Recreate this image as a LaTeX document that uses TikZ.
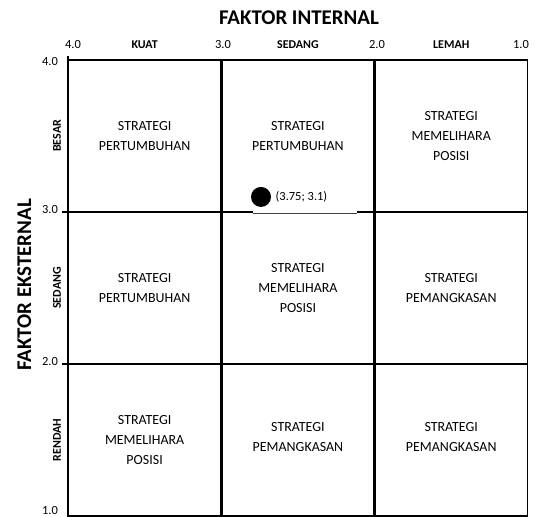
\documentclass[tikz,border=0pt]{standalone}
\usepackage{fontspec}
\setmainfont{Carlito}
\usetikzlibrary{positioning}

\begin{document}
\begin{tikzpicture}[x=-5.408cm, y=5.362cm,
  cellText/.style={align=center, font=\fontsize{14}{20}\selectfont},
  tickLabel/.style={font=\fontsize{12.5}{14}\selectfont},
  bandLabel/.style={font=\bfseries\fontsize{12}{14}\selectfont},
  axisTitle/.style={font=\bfseries\fontsize{21}{24}\selectfont}]
  \useasboundingbox (4.4436,0.9934) rectangle (0.9210,4.3947);
  % grid
  \draw[line width=1.2pt] (4,4) rectangle (1,1);
  \draw[line width=1.2pt] (4,4) -- (4,4.025);
  \draw[line width=2.5pt] (3,4) -- (3,1);
  \draw[line width=2.5pt] (2,4) -- (2,1);
  \draw[line width=2.5pt] (4.04,2) -- (1,2);
  \draw[line width=2.5pt] (4.04,3) -- (2.793,3);
  \draw[line width=1.4pt, black!75] (2.793,2.99) -- (2.115,2.99);
  \draw[line width=2.5pt] (2.115,3) -- (1,3);
  % axis titles
  \node[axisTitle] (intTitle) at (2.493,4.276) {FAKTOR INTERNAL};
  \node[axisTitle, rotate=90] (extTitle) at (4.285,2.52) {FAKTOR EKSTERNAL};
  % top scale
  \node[tickLabel] (t40) at (3.967,4.099) {4.0};
  \node[tickLabel] (t30) at (2.989,4.099) {3.0};
  \node[tickLabel] (t20) at (1.984,4.099) {2.0};
  \node[tickLabel] (t10) at (1.045,4.099) {1.0};
  \node[bandLabel] (kuat) at (3.5,4.099) {KUAT};
  \node[bandLabel] (sedangInt) at (2.5,4.099) {SEDANG};
  \node[bandLabel] (lemah) at (1.5,4.099) {LEMAH};
  % left scale
  \node[tickLabel] (l40) at (4.117,3.987) {4.0};
  \node[tickLabel] (l30) at (4.117,3.013) {3.0};
  \node[tickLabel] (l20) at (4.117,2.013) {2.0};
  \node[tickLabel] (l10) at (4.117,1.033) {1.0};
  \node[bandLabel, rotate=90] (besar) at (4.072,3.5) {BESAR};
  \node[bandLabel, rotate=90] (sedangExt) at (4.072,2.5) {SEDANG};
  \node[bandLabel, rotate=90] (rendah) at (4.072,1.5) {RENDAH};
  % cells
  \node[cellText] (c11) at (3.5,3.5) {STRATEGI\\PERTUMBUHAN};
  \node[cellText] (c12) at (2.5,3.5) {STRATEGI\\PERTUMBUHAN};
  \node[cellText] (c13) at (1.5,3.5) {STRATEGI\\MEMELIHARA\\POSISI};
  \node[cellText] (c21) at (3.5,2.5) {STRATEGI\\PERTUMBUHAN};
  \node[cellText] (c22) at (2.5,2.5) {STRATEGI\\MEMELIHARA\\POSISI};
  \node[cellText] (c23) at (1.5,2.5) {STRATEGI\\PEMANGKASAN};
  \node[cellText] (c31) at (3.5,1.5) {STRATEGI\\MEMELIHARA\\POSISI};
  \node[cellText] (c32) at (2.5,1.52) {STRATEGI\\PEMANGKASAN};
  \node[cellText] (c33) at (1.5,1.52) {STRATEGI\\PEMANGKASAN};
  % position
  \node[circle, fill=black, minimum size=20bp, inner sep=0pt] (pos) at (2.741,3.099) {};
  \node[tickLabel, right=1pt of pos] (posLabel) {(3.75; 3.1)};
\end{tikzpicture}
\end{document}
